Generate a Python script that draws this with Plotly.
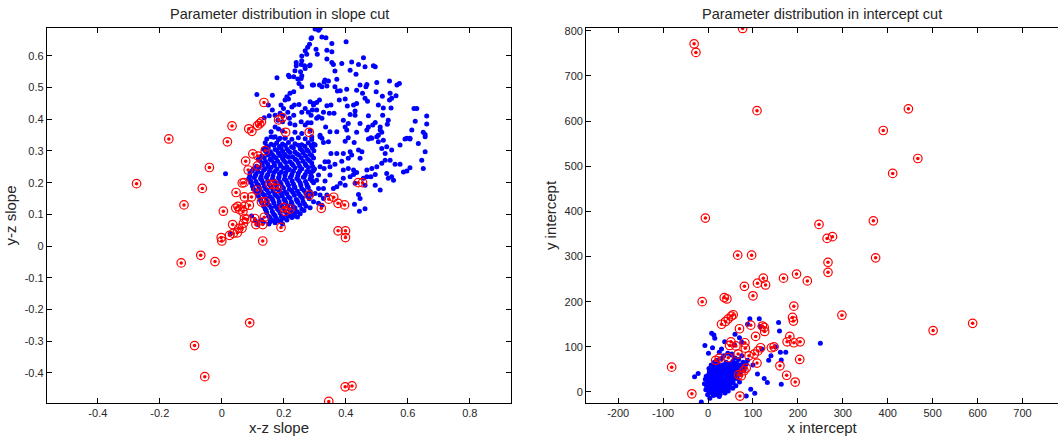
import plotly.graph_objects as go

W, H = 1058, 439

# ---------------- Left panel: slope cut ----------------
slope_blue_x = [
    # upper sparse region
    0.288, 0.283, 0.277, 0.269, 0.274, 0.258, 0.258, 0.240, 0.240, 0.256, 0.267, 0.283, 0.269, 0.236,
    0.254, 0.258, 0.256, 0.245, 0.232, 0.215, 0.218, 0.178, 0.249, 0.258, 0.292, 0.232, 0.220, 0.210,
    0.215, 0.234, 0.226, 0.249, 0.285, 0.296, 0.269, 0.258, 0.279, 0.204, 0.191, 0.199, 0.188, 0.197,
    0.213, 0.218, 0.232, 0.163, 0.113, 0.150, 0.163, 0.172, 0.137, 0.153, 0.181, 0.196, 0.220, 0.236,
    0.256, 0.269, 0.277, 0.288, 0.292, 0.172, 0.183, 0.196, 0.159, 0.159, 0.172, 0.236, 0.258, 0.285,
    0.188, 0.204,
    0.301, 0.312, 0.317, 0.290, 0.323, 0.336, 0.355, 0.401, 0.304, 0.339, 0.355, 0.308, 0.285, 0.339,
    0.355, 0.360, 0.387, 0.419, 0.457, 0.441, 0.462, 0.414, 0.433, 0.489, 0.495, 0.365, 0.333, 0.330,
    0.344, 0.371, 0.315, 0.323, 0.339, 0.296, 0.365, 0.373, 0.382, 0.403, 0.435, 0.446, 0.468, 0.465,
    0.500, 0.541, 0.565, 0.573, 0.454, 0.498, 0.518, 0.543, 0.562, 0.541, 0.548, 0.315, 0.296, 0.306,
    0.339, 0.352, 0.379, 0.398, 0.405, 0.425, 0.435, 0.462, 0.470, 0.505, 0.521, 0.546, 0.620, 0.629,
    0.661, 0.661, 0.624, 0.306, 0.328, 0.347, 0.362, 0.430, 0.414, 0.430, 0.473, 0.519, 0.537, 0.534,
    0.306, 0.312, 0.323, 0.288, 0.392, 0.408, 0.446, 0.495, 0.511, 0.487, 0.473, 0.468, 0.516, 0.505,
    0.481, 0.335, 0.349, 0.371, 0.398, 0.403, 0.435, 0.607, 0.597, 0.613, 0.650, 0.656, 0.317, 0.323,
    0.511,
    # middle right region
    0.290, 0.317, 0.328, 0.301, 0.344, 0.398, 0.408, 0.427, 0.473, 0.484, 0.500, 0.505, 0.521, 0.516,
    0.532, 0.548, 0.527, 0.575, 0.591, 0.607, 0.656, 0.634, 0.656, 0.352, 0.371, 0.392, 0.414, 0.419,
    0.441, 0.452, 0.446, 0.408, 0.387, 0.333, 0.344, 0.365, 0.349, 0.317, 0.330, 0.296, 0.285, 0.290,
    0.312, 0.349, 0.306, 0.333, 0.392, 0.408, 0.425, 0.435, 0.468, 0.484, 0.500, 0.516, 0.527, 0.543,
    0.559, 0.575, 0.586, 0.597, 0.607, 0.645, 0.650, 0.532, 0.537, 0.548, 0.554, 0.495, 0.481, 0.468,
    0.457, 0.462, 0.392, 0.414, 0.425, 0.430, 0.398, 0.382, 0.371, 0.360, 0.328, 0.312, 0.301, 0.317,
    0.328, 0.296, 0.312, 0.323, 0.339, 0.441, 0.446, 0.511, 0.495, 0.444, 0.428, 0.462,
    # dense core
    0.145, 0.167, 0.183, 0.204, 0.226, 0.247, 0.269, 0.290,
    0.140, 0.159, 0.177, 0.196, 0.215, 0.236, 0.258, 0.279, 0.296,
    0.134, 0.150, 0.172, 0.191, 0.210, 0.231, 0.253, 0.274, 0.292,
    0.145, 0.163, 0.183, 0.202, 0.220, 0.242, 0.263, 0.285,
    0.118, 0.137, 0.156, 0.175, 0.196, 0.215, 0.236, 0.256, 0.277, 0.296,
    0.129, 0.148, 0.168, 0.188, 0.206, 0.226, 0.247, 0.269, 0.290,
    0.102, 0.120, 0.140, 0.159, 0.178, 0.199, 0.218, 0.236, 0.258, 0.279, 0.299,
    0.091, 0.110, 0.129, 0.148, 0.168, 0.186, 0.206, 0.226, 0.247, 0.269, 0.288,
    0.086, 0.105, 0.125, 0.144, 0.163, 0.183, 0.202, 0.221, 0.242, 0.263, 0.285,
    0.095, 0.114, 0.133, 0.153, 0.172, 0.191, 0.211, 0.231, 0.253, 0.274, 0.296,
    0.102, 0.121, 0.141, 0.160, 0.179, 0.199, 0.218, 0.236, 0.258, 0.279,
    0.113, 0.132, 0.151, 0.171, 0.190, 0.210, 0.229, 0.249, 0.271, 0.290,
    0.124, 0.143, 0.162, 0.182, 0.201, 0.220, 0.240, 0.260, 0.282,
    0.129, 0.148, 0.168, 0.186, 0.206, 0.226, 0.245, 0.267,
    0.140, 0.159, 0.179, 0.197, 0.217, 0.236, 0.258, 0.285,
    0.145, 0.167, 0.188, 0.210, 0.231, 0.253,
    0.156, 0.177, 0.199, 0.226,
    0.172, 0.196,
    # dense core, in-between points
    0.145, 0.168, 0.186, 0.205, 0.225, 0.247, 0.268, 0.288,
    0.140, 0.157, 0.177, 0.196, 0.215, 0.236, 0.258, 0.279, 0.297,
    0.128, 0.150, 0.168, 0.188, 0.206, 0.228, 0.248, 0.270, 0.290,
    0.122, 0.141, 0.160, 0.180, 0.200, 0.220, 0.241, 0.262, 0.283,
    0.112, 0.131, 0.150, 0.170, 0.190, 0.210, 0.230, 0.251, 0.272, 0.293,
    0.098, 0.116, 0.135, 0.154, 0.173, 0.192, 0.212, 0.231, 0.252, 0.274, 0.294,
    0.090, 0.108, 0.127, 0.146, 0.165, 0.185, 0.204, 0.224, 0.245, 0.266, 0.287,
    0.092, 0.110, 0.129, 0.148, 0.168, 0.187, 0.207, 0.227, 0.248, 0.270, 0.291,
    0.099, 0.118, 0.137, 0.157, 0.176, 0.195, 0.215, 0.234, 0.255, 0.276,
    0.108, 0.127, 0.146, 0.165, 0.185, 0.204, 0.224, 0.244, 0.265, 0.285,
    0.118, 0.137, 0.156, 0.176, 0.195, 0.215, 0.234, 0.254, 0.275,
    0.126, 0.145, 0.165, 0.185, 0.204, 0.224, 0.243, 0.262,
    0.135, 0.153, 0.173, 0.192, 0.212, 0.231, 0.252, 0.272,
    0.143, 0.163, 0.183, 0.203, 0.222, 0.243, 0.265,
    0.151, 0.171, 0.192, 0.213, 0.236,
    0.163, 0.186, 0.210,
    # scattered low/left
    0.012, 0.027, 0.115, 0.134, 0.156, 0.190, 0.096, 0.108, 0.128, 0.152, 0.174, 0.222, 0.244,
]
slope_blue_y = [
    0.655, 0.637, 0.627, 0.616, 0.605, 0.600, 0.585, 0.579, 0.569, 0.573, 0.569, 0.569, 0.560, 0.553,
    0.550, 0.537, 0.529, 0.527, 0.534, 0.539, 0.534, 0.531, 0.513, 0.503, 0.508, 0.487, 0.482, 0.471,
    0.464, 0.445, 0.439, 0.447, 0.455, 0.450, 0.434, 0.422, 0.422, 0.461, 0.445, 0.434, 0.419, 0.411,
    0.422, 0.403, 0.413, 0.476, 0.478, 0.445, 0.429, 0.413, 0.405, 0.411, 0.397, 0.392, 0.387, 0.382,
    0.392, 0.382, 0.389, 0.413, 0.429, 0.376, 0.369, 0.363, 0.361, 0.345, 0.345, 0.359, 0.355, 0.363,
    0.340, 0.340,
    0.685, 0.681, 0.687, 0.657, 0.660, 0.657, 0.639, 0.645, 0.621, 0.618, 0.613, 0.605, 0.571, 0.590,
    0.579, 0.573, 0.576, 0.581, 0.594, 0.573, 0.566, 0.555, 0.542, 0.569, 0.566, 0.552, 0.524, 0.518,
    0.521, 0.526, 0.508, 0.503, 0.505, 0.508, 0.503, 0.489, 0.490, 0.495, 0.492, 0.508, 0.510, 0.503,
    0.516, 0.521, 0.508, 0.513, 0.482, 0.487, 0.473, 0.482, 0.474, 0.461, 0.466, 0.461, 0.445, 0.453,
    0.443, 0.445, 0.461, 0.464, 0.442, 0.445, 0.450, 0.466, 0.457, 0.445, 0.436, 0.436, 0.434, 0.434,
    0.410, 0.385, 0.394, 0.429, 0.422, 0.419, 0.419, 0.426, 0.415, 0.413, 0.411, 0.413, 0.397, 0.384,
    0.403, 0.408, 0.403, 0.389, 0.397, 0.387, 0.387, 0.390, 0.376, 0.382, 0.376, 0.366, 0.359, 0.350,
    0.342, 0.376, 0.361, 0.361, 0.376, 0.366, 0.359, 0.340, 0.340, 0.366, 0.359, 0.352, 0.350, 0.340,
    0.366,
    0.345, 0.345, 0.327, 0.319, 0.329, 0.331, 0.342, 0.327, 0.338, 0.340, 0.345, 0.329, 0.334, 0.308,
    0.313, 0.303, 0.292, 0.319, 0.338, 0.338, 0.345, 0.324, 0.298, 0.292, 0.292, 0.292, 0.298, 0.287,
    0.303, 0.298, 0.277, 0.277, 0.268, 0.266, 0.266, 0.258, 0.250, 0.250, 0.245, 0.240, 0.234, 0.219,
    0.224, 0.224, 0.208, 0.205, 0.240, 0.245, 0.240, 0.232, 0.240, 0.245, 0.250, 0.261, 0.271, 0.271,
    0.258, 0.258, 0.234, 0.237, 0.247, 0.271, 0.245, 0.229, 0.214, 0.219, 0.208, 0.226, 0.219, 0.219,
    0.214, 0.192, 0.214, 0.219, 0.226, 0.198, 0.192, 0.198, 0.187, 0.182, 0.182, 0.182, 0.166, 0.161,
    0.150, 0.140, 0.135, 0.129, 0.161, 0.163, 0.150, 0.177, 0.192, 0.110, 0.132, 0.118,
    0.338, 0.343, 0.336, 0.341, 0.337, 0.342, 0.339, 0.336,
    0.326, 0.321, 0.325, 0.322, 0.327, 0.323, 0.320, 0.326, 0.322,
    0.306, 0.311, 0.305, 0.309, 0.306, 0.310, 0.307, 0.304, 0.310,
    0.294, 0.289, 0.293, 0.290, 0.295, 0.291, 0.294, 0.289,
    0.275, 0.279, 0.274, 0.278, 0.276, 0.280, 0.275, 0.279, 0.274, 0.278,
    0.263, 0.259, 0.262, 0.258, 0.264, 0.260, 0.263, 0.259, 0.262,
    0.243, 0.247, 0.244, 0.248, 0.243, 0.246, 0.242, 0.247, 0.244, 0.248, 0.243,
    0.231, 0.227, 0.230, 0.226, 0.232, 0.228, 0.231, 0.227, 0.230, 0.226, 0.231,
    0.212, 0.216, 0.213, 0.217, 0.212, 0.215, 0.211, 0.216, 0.213, 0.217, 0.212,
    0.200, 0.196, 0.199, 0.195, 0.201, 0.197, 0.200, 0.196, 0.199, 0.195, 0.200,
    0.180, 0.184, 0.181, 0.185, 0.180, 0.183, 0.179, 0.184, 0.181, 0.185,
    0.168, 0.164, 0.167, 0.163, 0.168, 0.165, 0.169, 0.164, 0.167, 0.163,
    0.148, 0.152, 0.149, 0.153, 0.148, 0.151, 0.147, 0.152, 0.149,
    0.137, 0.133, 0.136, 0.132, 0.137, 0.134, 0.138, 0.133,
    0.117, 0.121, 0.118, 0.122, 0.117, 0.120, 0.116, 0.121,
    0.105, 0.101, 0.104, 0.100, 0.105, 0.102,
    0.089, 0.085, 0.088, 0.090,
    0.074, 0.070,
    0.315, 0.318, 0.314, 0.317, 0.313, 0.318, 0.315, 0.317,
    0.301, 0.298, 0.302, 0.299, 0.300, 0.297, 0.302, 0.299, 0.301,
    0.284, 0.287, 0.283, 0.286, 0.285, 0.282, 0.287, 0.284, 0.286,
    0.270, 0.267, 0.271, 0.268, 0.270, 0.266, 0.271, 0.268, 0.269,
    0.252, 0.255, 0.251, 0.254, 0.253, 0.250, 0.255, 0.252, 0.254, 0.251,
    0.238, 0.235, 0.239, 0.236, 0.237, 0.234, 0.239, 0.236, 0.238, 0.235, 0.237,
    0.220, 0.223, 0.219, 0.222, 0.221, 0.218, 0.223, 0.220, 0.222, 0.219, 0.221,
    0.207, 0.204, 0.208, 0.205, 0.206, 0.203, 0.208, 0.205, 0.207, 0.204, 0.206,
    0.189, 0.192, 0.188, 0.191, 0.190, 0.187, 0.192, 0.189, 0.191, 0.188,
    0.175, 0.172, 0.176, 0.173, 0.174, 0.171, 0.176, 0.173, 0.175, 0.172,
    0.157, 0.160, 0.156, 0.159, 0.158, 0.155, 0.160, 0.157, 0.159,
    0.143, 0.140, 0.144, 0.141, 0.142, 0.139, 0.144, 0.141,
    0.126, 0.129, 0.125, 0.128, 0.127, 0.124, 0.129, 0.126,
    0.112, 0.109, 0.113, 0.110, 0.111, 0.108, 0.112,
    0.094, 0.097, 0.093, 0.096, 0.095,
    0.081, 0.078, 0.082,
    0.228, 0.038, 0.068, 0.075, 0.077, 0.080, 0.095, 0.080, 0.082, 0.070, 0.090, 0.095, 0.092,
]

slope_red_x = [
    -0.275, -0.171, -0.122, -0.063, -0.040, 0.018, 0.033, 0.005, 0.046, 0.066, 0.072, 0.077, 0.085,
    0.087, 0.097, 0.100, 0.117, 0.115, 0.114, 0.096, 0.073, 0.128, 0.140, 0.136, 0.115, 0.122, 0.128,
    0.155, 0.180, 0.183, 0.195, 0.206, 0.199, 0.220, 0.204, 0.282, 0.282, 0.321, 0.345, 0.361, 0.375,
    0.396, 0.440, 0.045, 0.052, 0.058, 0.068, 0.073, 0.073, 0.106, 0.137, 0.035, 0.070, 0.110, 0.132,
    0.191, -0.002, 0.000, 0.025, 0.037, 0.050, 0.055, 0.132, 0.375, 0.399, 0.399, -0.131, -0.068,
    -0.022, 0.090, -0.088, -0.055, 0.398, 0.420, 0.345, 0.140, 0.089, 0.080, 0.065, 0.169, 0.454,
]
slope_red_y = [
    0.197, 0.338, 0.130, 0.182, 0.248, 0.329, 0.379, 0.110, 0.169, 0.199, 0.200, 0.268, 0.240,
    0.370, 0.362, 0.291, 0.284, 0.253, 0.177, 0.155, 0.155, 0.139, 0.301, 0.453, 0.380, 0.386, 0.392,
    0.195, 0.182, 0.398, 0.405, 0.359, 0.122, 0.117, 0.110, 0.359, 0.161, 0.119, 0.148, 0.154, 0.135,
    0.130, 0.200, 0.120, 0.125, 0.115, 0.108, 0.125, 0.087, 0.087, 0.091, 0.068, 0.072, 0.068, 0.068,
    0.059, 0.027, 0.016, 0.034, 0.040, 0.042, 0.056, 0.016, 0.048, 0.048, 0.027, -0.053, -0.029,
    -0.049, -0.242, -0.314, -0.412, -0.444, -0.441, -0.490, 0.140, 0.129, 0.085, 0.056, 0.195, 0.200,
]

slope_xticks = [-0.4, -0.2, 0, 0.2, 0.4, 0.6, 0.8]
slope_xlabels = ["-0.4", "-0.2", "0", "0.2", "0.4", "0.6", "0.8"]
slope_yticks = [-0.4, -0.3, -0.2, -0.1, 0, 0.1, 0.2, 0.3, 0.4, 0.5, 0.6]
slope_ylabels = ["-0.4", "-0.3", "-0.2", "-0.1", "0", "0.1", "0.2", "0.3", "0.4", "0.5", "0.6"]

# ---------------- Right panel: intercept cut ----------------
icpt_blue_x = [
    # sparse outliers
    250, 163, 161, 173, 132, 163, 95, 104, 85, -15, 4, 114, 93, 116, 157, 159, 8, 13, 15, -7, 10,
    25, 1, -30, -22, 37, 59, 53, 88, 70, 120, 135, 150, 100, 75, 60, 110, 125, 140, 30,
    # dense cluster
    -5, -3, -2, 0, -4, 2, 3, 4, 5, 6, 5, 3, 8, 9, 10, 11, 10, 12, 9, 11, 13, 14, 15, 16, 17, 18, 16,
    18, 17, 19, 20, 21, 22, 23, 22, 24, 23, 25, 24, 26, 27, 28, 29, 28, 30, 29, 31, 30, 32, 33, 34,
    35, 36, 35, 37, 36, 38, 37, 39, 40, 41, 42, 43, 42, 44, 43, 45, 46, 47, 48, 49, 50, 51, 50, 52,
    53, 54, 55, 56, 57, 58, 59, 60, 62, 63, 65, 66, 67, 68, 70, 72, 74, 76, 78, 80, 82, 85, 88, 62,
    70, 45, 55, 7, 2, -8, -6, 12, 25, 38, 20, 30, 14, 16, 19, 26, 31, 13, 21, 33, 27, 15, 8, 6, 24,
    33, 41, 48, 58, 68, 75, 60, 52, 44, 35, 12, 18, 24, 28, 34, 40, 6, 10, 20,
    1, 4, 7, 7, 8, 12, 13, 14, 14, 15, 15, 19, 20, 20, 21, 20, 21, 22, 22, 25, 26, 26, 27, 27, 28,
    29, 32, 32, 33, 34, 34, 35, 39, 39, 40, 40, 41, 45, 46, 47, 47, 48, 52, 53, 55, 4, 0, -2, 1, 2,
    3, 10, 16, 23, -1, 11, 18,
]
icpt_blue_y = [
    108, 71, 88, 88, 21, 17, 6, -3, -9, -22, -14, 162, 162, 145, 154, 135, 130, 126, 119, 103, 98,
    88, 86, 34, 41, 111, 104, 84, 150, 120, 95, 70, 100, 60, 110, 128, 40, 30, 80, 95,
    5, 12, 20, 28, 35, 2, 9, 15, 22, 30, 38, 45, 0, 6, 12, 18, 25, 32, 40, 48, 55, -3, 4, 10, 16, 22,
    28, 35, 42, 50, 62, 1, 8, 14, 20, 26, 33, 39, 46, 55, -5, 5, 11, 18, 24, 30, 37, 44, 51, 60, 2,
    9, 15, 21, 28, 35, 41, 48, 57, 66, 6, 13, 19, 26, 32, 39, 45, 53, 62, 10, 17, 24, 30, 37, 43, 50,
    58, 68, 20, 28, 35, 42, 48, 56, 64, 30, 38, 45, 52, 60, 40, 50, 58, 66, 48, 56, 62, 70, 14, 22, 2,
    8, 60, 52, 18, 28, -8, -10, -2, 70, 74, 66, 3, 8, 13, 19, 24, 28, 27, 36, 38, 18, 8, 52, 44, 50,
    55, 62, 72, 80, 75, 82, 86, 80, 7, 3, 12, 6, 14, 9, 2, 16, 33,
    3, 17, 25, 33, 43, 3, 9, 15, 21, 29, 45, -1, 5, 11, 18, 24, 31, 38, 44, 2, 8, 17, 23, 29, 40,
    48, 6, 13, 23, 31, 38, 46, 10, 18, 24, 32, 43, 15, 22, 28, 35, 41, 26, 33, 40, -2, 10, 15, 22, 40,
    32, 52, 58, 61, -6, -4, -6,
]

icpt_red_x = [
    -31, -27, 77, 109, 446, 390, 467, 411, -6, 368, 247, 265, 277, 373, 267, 267, 66, 97, 123, 168,
    197, 221, 110, 128, 81, 100, 36, 42, -13, 191, 298, 30, 39, 45, 52, 56, 70, 95, 121, 125, 126,
    188, 190, 182, 176, 191, 205, 106, 51, 48, 62, 82, 83, 91, 103, 111, 117, 141, 147, 67, 45, 17,
    25, 85, 80, 68, 74, 71, 109, 160, 175, 194, 204, -81, -36, 501, 589,
]
icpt_red_y = [
    771, 752, 805, 623, 627, 579, 517, 484, 385, 379, 371, 340, 344, 297, 287, 265, 303, 303, 252,
    252, 261, 246, 241, 237, 234, 213, 209, 206, 200, 190, 170, 150, 156, 162, 168, 171, 140, 148,
    146, 143, 134, 165, 157, 123, 111, 109, 111, 123, 111, 103, 102, 109, 97, 80, 84, 91, 98, 98, 100,
    84, 76, 70, 75, 53, 47, 38, 36, -9, 64, 58, 37, 22, 72, 55, -4, 136, 152,
]

icpt_xticks = [-200, -100, 0, 100, 200, 300, 400, 500, 600, 700]
icpt_xlabels = ["-200", "-100", "0", "100", "200", "300", "400", "500", "600", "700"]
icpt_yticks = [0, 100, 200, 300, 400, 500, 600, 700, 800]
icpt_ylabels = ["0", "100", "200", "300", "400", "500", "600", "700", "800"]

# ---------------- Figure ----------------
FONT = "Liberation Sans, Arial, Helvetica, sans-serif"
TXT = "#262626"
BLUE = "#0000ff"
RED = "#ff0000"

fig = go.Figure()


def add_panel(bx, by, rx, ry, xa, ya):
    fig.add_trace(go.Scatter(x=bx, y=by, mode="markers", xaxis=xa, yaxis=ya,
                             marker=dict(color=BLUE, size=5, line=dict(width=0)),
                             showlegend=False, hoverinfo="skip"))
    fig.add_trace(go.Scatter(x=rx, y=ry, mode="markers", xaxis=xa, yaxis=ya,
                             marker=dict(color=RED, size=3.5, line=dict(width=0)),
                             showlegend=False, hoverinfo="skip"))
    fig.add_trace(go.Scatter(x=rx, y=ry, mode="markers", xaxis=xa, yaxis=ya,
                             marker=dict(symbol="circle-open", color=RED, size=8.5,
                                         line=dict(width=1.2, color=RED)),
                             showlegend=False, hoverinfo="skip"))


add_panel(slope_blue_x, slope_blue_y, slope_red_x, slope_red_y, "x", "y")
add_panel(icpt_blue_x, icpt_blue_y, icpt_red_x, icpt_red_y, "x2", "y2")

ydom = [1 - 403 / H, 1 - 28 / H]
common = dict(showgrid=False, zeroline=False, showline=True, linecolor="black", linewidth=1.3,
              ticks="inside", ticklen=5, tickcolor="black", tickwidth=1,
              tickfont=dict(family=FONT, size=11, color=TXT), automargin=False)
tfont = dict(family=FONT, size=15, color=TXT)

fig.update_layout(
    width=W, height=H,
    margin=dict(l=0, r=0, t=0, b=0),
    paper_bgcolor="white", plot_bgcolor="white",
    font=dict(family=FONT, color=TXT),
    xaxis=dict(domain=[47 / W, 511 / W], range=[-0.564, 0.933], anchor="y",
               tickvals=slope_xticks, ticktext=slope_xlabels, mirror="ticks",
               title=dict(text="x-z slope", font=tfont, standoff=3), **common),
    yaxis=dict(domain=ydom, range=[-0.495, 0.688], anchor="x",
               tickvals=slope_yticks, ticktext=slope_ylabels, mirror="ticks",
               title=dict(text="y-z slope", font=tfont, standoff=4), **common),
    xaxis2=dict(domain=[586.3 / W, 1.0], range=[-271, 779], anchor="y2",
                tickvals=icpt_xticks, ticktext=icpt_xlabels, mirror="ticks",
                title=dict(text="x intercept", font=tfont, standoff=3), **common),
    yaxis2=dict(domain=ydom, range=[-24.4, 806], anchor="x2",
                tickvals=icpt_yticks, ticktext=icpt_ylabels, mirror=False,
                title=dict(text="y intercept", font=tfont, standoff=4), **common),
    annotations=[
        dict(text="Parameter distribution in slope cut", x=(47 + 511) / 2 / W, y=1 - 14 / H,
             xref="paper", yref="paper", showarrow=False, xanchor="center", yanchor="middle",
             font=dict(family=FONT, size=14.5, color=TXT)),
        dict(text="Parameter distribution in intercept cut", x=(586 + 1058) / 2 / W, y=1 - 14 / H,
             xref="paper", yref="paper", showarrow=False, xanchor="center", yanchor="middle",
             font=dict(family=FONT, size=14.5, color=TXT)),
    ],
)

fig.write_html("out.html")
